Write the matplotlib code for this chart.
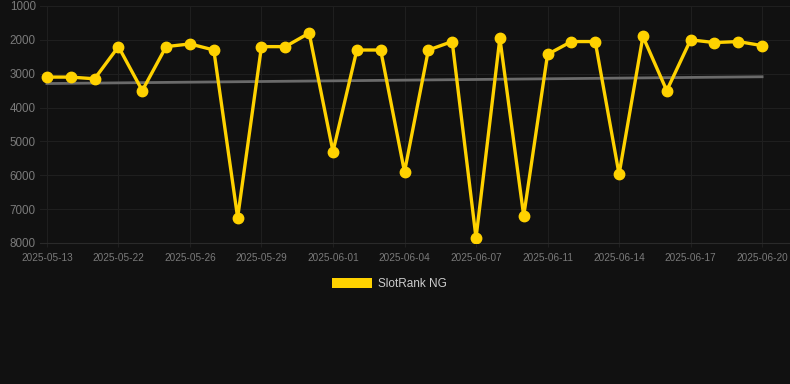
import matplotlib
matplotlib.use("Agg")
import matplotlib.pyplot as plt
from matplotlib.patches import Patch

dates = ['2025-05-13', '2025-05-16', '2025-05-19', '2025-05-22', '2025-05-23',
         '2025-05-25', '2025-05-26', '2025-05-27', '2025-05-28', '2025-05-29',
         '2025-05-30', '2025-05-31', '2025-06-01', '2025-06-02', '2025-06-03',
         '2025-06-04', '2025-06-05', '2025-06-06', '2025-06-07', '2025-06-08',
         '2025-06-10', '2025-06-11', '2025-06-12', '2025-06-13', '2025-06-14',
         '2025-06-15', '2025-06-16', '2025-06-17', '2025-06-18', '2025-06-19',
         '2025-06-20']
rank = [3100, 3100, 3150, 2200, 3500, 2200, 2120, 2300, 7250, 2200,
        2200, 1800, 5300, 2300, 2300, 5900, 2300, 2050, 7850, 1950,
        7200, 2430, 2050, 2050, 5970, 1900, 3500, 2000, 2080, 2050,
        2170]
trend = [3290, 3090]  # start / end of the grey trend line
y_ticks = [1000, 2000, 3000, 4000, 5000, 6000, 7000, 8000]

bg = '#111111'
gold = '#FFD200'
plt.rcParams['font.family'] = ['Liberation Sans', 'DejaVu Sans']

fig = plt.figure(figsize=(7.9, 3.84), dpi=100, facecolor=bg)
ax = fig.add_axes([40 / 790, 1 - 243 / 384, 750 / 790, 237 / 384])
ax.set_facecolor(bg)

x = list(range(len(dates)))
ax.plot([x[0], x[-1]], trend, color='#6a6a6a', lw=2, zorder=2)
ax.plot(x, rank, color=gold, lw=2.4, marker='o', ms=7.5,
        solid_joinstyle='miter', zorder=3)

ax.set_ylim(8000, 1000)
ax.set_xlim(-0.29, 31.17)
ax.set_yticks(y_ticks)
ax.set_yticklabels([str(v) for v in y_ticks])
ax.set_xticks(x[::3])
ax.set_xticklabels(dates[::3])

ax.grid(True, color='#1f1f1f', lw=0.8)
ax.set_axisbelow(True)
for s in ['top', 'right', 'left']:
    ax.spines[s].set_visible(False)
ax.spines['bottom'].set_color('#2a2a2a')
ax.tick_params(axis='y', length=0, pad=3, labelsize=8.4, labelcolor='#7a7a7a')
ax.tick_params(axis='x', length=3, color='#1f1f1f', pad=4, labelsize=7.2,
               labelcolor='#7a7a7a')

fig.legend(handles=[Patch(facecolor=gold, edgecolor='none', label='SlotRank NG')],
           loc='center', bbox_to_anchor=(0.493, 1 - 284 / 384), frameon=False,
           fontsize=8.5, labelcolor='#cccccc', handlelength=3.4, handleheight=0.95,
           handletextpad=0.5)

fig.savefig('out.png', dpi=100, facecolor=bg)
